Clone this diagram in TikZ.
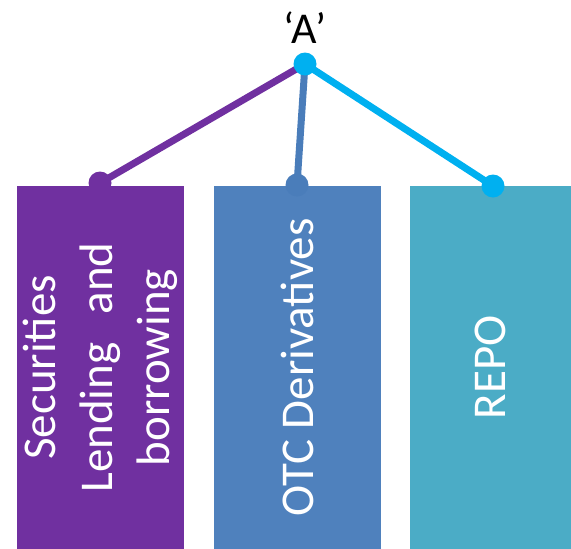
\documentclass[tikz,border=0pt]{standalone}
\usepackage{fontspec}
\setmainfont{Carlito}
\definecolor{purpleA}{HTML}{7030A0}
\definecolor{steelA}{HTML}{4F81BD}
\definecolor{steelB}{HTML}{4A7DBA}
\definecolor{tealA}{HTML}{4BACC6}
\definecolor{cyanA}{HTML}{00B0F0}
\begin{document}
\begin{tikzpicture}[x=1pt,y=-1pt,
  catbox/.style={rectangle, rotate=90, inner sep=0pt, text=white, align=center,
    font=\fontsize{47}{57}\selectfont, minimum width=363pt},
  dot/.style={circle, inner sep=0pt, minimum size=23pt},
  link/.style={line width=7pt}]
\useasboundingbox (0,0) rectangle (571,549);
% category boxes (text runs bottom to top)
\node[catbox, fill=purpleA, minimum height=167pt] (sec) at (100.5,367.5)
  {Securities\\Lending\hspace{0.6em}and\\borrowing};
\node[catbox, fill=steelA, minimum height=167pt] (otc) at (297.5,367.5) {OTC Derivatives};
\node[catbox, fill=tealA, minimum height=161pt] (repo) at (490.5,367.5) {REPO};
% root label and joints
\node[font=\fontsize{44}{53}\selectfont] (lbl) at (305,28) {‘A’};
\coordinate (root) at (305,64);
\coordinate (j1) at (100,183);
\coordinate (j2) at (297,185);
\coordinate (j3) at (493,186);
% connectors
\draw[link, purpleA] (root) -- (j1);
\draw[link, steelB] (root) -- (j2);
\draw[link, cyanA] (root) -- (j3);
% joint dots
\node[dot, fill=purpleA] (d1) at (j1) {};
\node[dot, fill=steelB] (d2) at (j2) {};
\node[dot, fill=cyanA] (d3) at (j3) {};
\node[dot, fill=cyanA] (d0) at (root) {};
\end{tikzpicture}
\end{document}
